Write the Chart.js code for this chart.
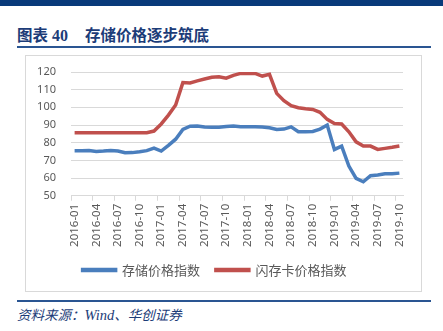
<!DOCTYPE html>
<html>
<head>
<meta charset="utf-8">
<script src="https://cdn.jsdelivr.net/npm/chart.js@4.4.1/dist/chart.umd.min.js"></script>
<style>
    html, body { margin: 0; padding: 0; background: #fff; }
    body { width: 443px; height: 331px; position: relative; overflow: hidden; font-family: "Noto Sans CJK SC", "Noto Sans", sans-serif; }
    #topbar { position: absolute; left: 0; top: 0; width: 443px; height: 6px; background: #083a7a; }
    #title { position: absolute; left: 17px; top: 24px; font-size: 15.5px; font-weight: bold; color: #1c3c78; white-space: nowrap; line-height: 20px; }
    #title .num { font-family: "Liberation Serif", serif; font-size: 16px; margin-left: 4px; margin-right: 17px; }
    .rule { position: absolute; left: 17px; width: 414px; height: 2px; background: #2a5592; }
    #box { position: absolute; left: 25px; top: 55px; width: 395px; height: 235px; border: 1px solid #d9d9d9; }
    #wrap { position: absolute; left: 0; top: 0; width: 395px; height: 235px; }
    #source { position: absolute; left: 17px; top: 305px; font-size: 13.5px; font-style: italic; color: #1c3c78; white-space: nowrap; line-height: 18px; }
    #source .en { font-family: "Liberation Serif", serif; font-size: 14.5px; }
</style>
</head>
<body>
<div id="topbar"></div>
<div id="title">图表<span class="num">40</span>存储价格逐步筑底</div>
<div class="rule" style="top:46px"></div>
<div id="box"><div id="wrap"><canvas id="priceChart"></canvas></div></div>
<div class="rule" style="top:300px"></div>
<div id="source">资料来源：<span class="en">Wind</span>、华创证券</div>
<script>
var months = [
    '2016-01', '2016-02', '2016-03', '2016-04', '2016-05', '2016-06', '2016-07', '2016-08', '2016-09', '2016-10', '2016-11', '2016-12',
    '2017-01', '2017-02', '2017-03', '2017-04', '2017-05', '2017-06', '2017-07', '2017-08', '2017-09', '2017-10', '2017-11', '2017-12',
    '2018-01', '2018-02', '2018-03', '2018-04', '2018-05', '2018-06', '2018-07', '2018-08', '2018-09', '2018-10', '2018-11', '2018-12',
    '2019-01', '2019-02', '2019-03', '2019-04', '2019-05', '2019-06', '2019-07', '2019-08', '2019-09', '2019-10'
];
// 存储价格指数
var storageIndex = [
    75.4, 75.4, 75.6, 75.1, 75.3, 75.6, 75.3, 74.3, 74.4, 74.9, 75.5, 77.0,
    75.3, 78.5, 82.0, 87.5, 89.3, 89.5, 88.9, 88.7, 88.7, 89.2, 89.4, 89.0,
    89.0, 89.0, 88.9, 88.5, 87.5, 87.7, 89.0, 86.2, 86.2, 86.4, 87.7, 90.0,
    76.2, 78.1, 66.8, 59.8, 57.9, 61.3, 61.7, 62.4, 62.4, 62.8
];
// 闪存卡价格指数
var flashCardIndex = [
    85.7, 85.7, 85.7, 85.7, 85.7, 85.7, 85.7, 85.7, 85.7, 85.7, 85.7, 86.6,
    90.6, 95.6, 101.3, 114.0, 113.8, 115.0, 116.0, 117.0, 117.3, 116.5, 118.1, 119.2,
    119.2, 119.2, 117.7, 118.7, 107.9, 103.8, 100.9, 99.8, 99.2, 98.8, 97.2, 93.2,
    90.9, 90.6, 86.2, 80.5, 78.1, 78.1, 76.2, 76.8, 77.4, 78.1
];
var yTicks = [50, 60, 70, 80, 90, 100, 110, 120];

var gray = '#595959';
var gridGray = '#d9d9d9';

var ctx = document.getElementById('priceChart').getContext('2d');
var priceChart = new Chart(ctx, {
    type: 'line',
    data: {
        labels: months,
        datasets: [{
            label: '存储价格指数',
            data: storageIndex,
            borderColor: '#4a7ebd',
            backgroundColor: '#4a7ebd',
            borderWidth: 3.5,
            pointRadius: 0,
            tension: 0
        }, {
            label: '闪存卡价格指数',
            data: flashCardIndex,
            borderColor: '#c0504d',
            backgroundColor: '#c0504d',
            borderWidth: 3.5,
            pointRadius: 0,
            tension: 0
        }]
    },
    options: {
        responsive: true,
        maintainAspectRatio: false,
        animation: false,
        layout: { padding: { top: 16, left: 0, right: 18, bottom: 4.5 } },
        plugins: {
            tooltip: { enabled: false },
            legend: {
                position: 'bottom',
                labels: {
                    boxWidth: 33,
                    boxHeight: 1,
                    padding: 15.75,
                    color: gray,
                    font: { family: '"Noto Sans CJK SC", sans-serif', size: 13 }
                }
            }
        },
        scales: {
            x: {
                offset: true,
                grid: {
                    offset: true,
                    drawOnChartArea: false,
                    drawTicks: true,
                    tickLength: 5,
                    color: function (c) { return (c.index % 3 === 0) ? gridGray : 'rgba(0,0,0,0)'; }
                },
                border: { display: true, color: gridGray },
                ticks: {
                    autoSkip: false,
                    minRotation: 90,
                    maxRotation: 90,
                    padding: 3,
                    color: gray,
                    font: { family: '"Noto Sans", sans-serif', size: 11.5 },
                    callback: function (value, index) { return index % 3 === 0 ? months[index] : ''; }
                },
                afterFit: function (scale) { scale.height = 52; }
            },
            y: {
                min: 50,
                max: 120,
                afterBuildTicks: function (scale) { scale.ticks = yTicks.map(function (v) { return { value: v }; }); },
                grid: { color: gridGray, drawTicks: true, tickLength: 12, tickColor: 'rgba(0,0,0,0)' },
                border: { display: false },
                ticks: {
                    padding: 3,
                    color: gray,
                    font: { family: '"Noto Sans", sans-serif', size: 11 }
                },
                afterFit: function (scale) { scale.width = 45; }
            }
        }
    }
});
</script>
</body>
</html>
